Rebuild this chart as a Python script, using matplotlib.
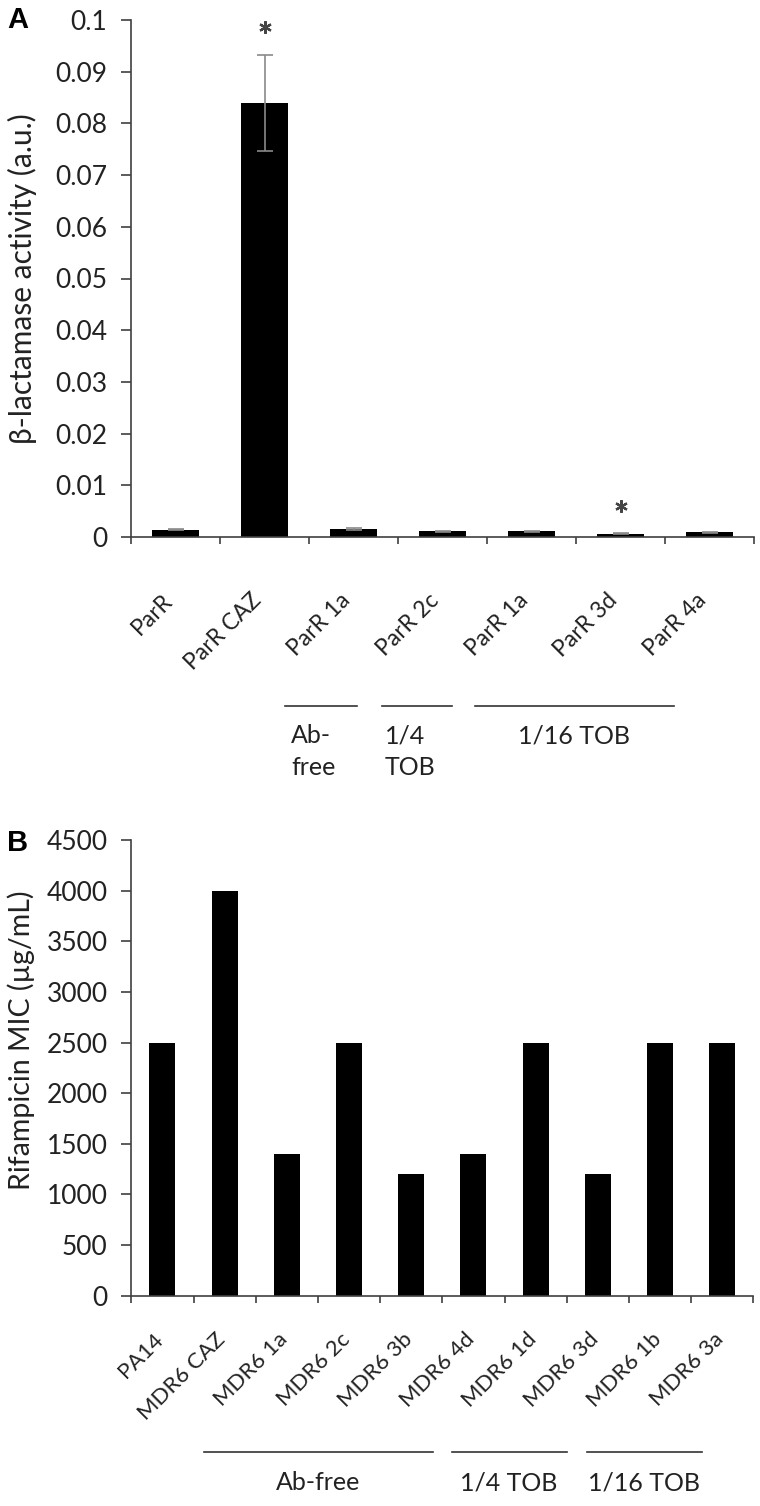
import numpy as np
import matplotlib
matplotlib.use('Agg')
import matplotlib.pyplot as plt
from matplotlib.transforms import ScaledTranslation, blended_transform_factory

# ---------------- data ----------------
a_labels = ['ParR', 'ParR CAZ', 'ParR 1a', 'ParR 2c', 'ParR 1a', 'ParR 3d', 'ParR 4a']
a_values = [0.0014, 0.0840, 0.0016, 0.0011, 0.0011, 0.0006, 0.0009]
a_errors = [0.0001, 0.0093, 0.0002, 0.0001, 0.0001, 0.0001, 0.0001]
a_signif = [False, True, False, False, False, True, False]
a_yticks = [0, 0.01, 0.02, 0.03, 0.04, 0.05, 0.06, 0.07, 0.08, 0.09, 0.1]
a_yticklabels = ['0', '0.01', '0.02', '0.03', '0.04', '0.05', '0.06', '0.07', '0.08', '0.09', '0.1']
a_ylabel = 'β-lactamase activity (a.u.)'
a_groups = ['Ab-\nfree', '1/4\nTOB', '1/16 TOB']
a_group_spans = [(1.23, 2.04), (2.32, 3.11), (3.37, 5.60)]

b_labels = ['PA14', 'MDR6 CAZ', 'MDR6 1a', 'MDR6 2c', 'MDR6 3b', 'MDR6 4d',
            'MDR6 1d', 'MDR6 3d', 'MDR6 1b', 'MDR6 3a']
b_values = [2500, 4000, 1400, 2500, 1200, 1400, 2500, 1200, 2500, 2500]
b_yticks = [0, 500, 1000, 1500, 2000, 2500, 3000, 3500, 4000, 4500]
b_ylabel = 'Rifampicin MIC (µg/mL)'
b_groups = ['Ab-free', '1/4 TOB', '1/16 TOB']
b_group_spans = [(0.67, 4.35), (4.65, 6.50), (6.82, 8.67)]

# ---------------- style ----------------
FAM = ['Lato', 'DejaVu Sans']
plt.rcParams['font.family'] = FAM
AX_COL = '#404040'
TXT_COL = '#222222'

W, H = 760, 1506
fig = plt.figure(figsize=(W / 100, H / 100), dpi=100)


def px_box(left, right, top, bottom):
    return [left / W, 1 - bottom / H, (right - left) / W, (bottom - top) / H]


def style_axes(ax, n, labels, label_pad, label_dx, label_size):
    for s in ('top', 'right'):
        ax.spines[s].set_visible(False)
    for s in ('left', 'bottom'):
        ax.spines[s].set_color(AX_COL)
        ax.spines[s].set_linewidth(1.2)
    ax.set_xlim(-0.5, n - 0.5)
    ax.set_xticks(np.arange(n))
    ax.set_xticklabels(labels, rotation=45, ha='right', va='top',
                       fontsize=label_size, color=TXT_COL)
    ax.set_xticks(np.arange(n + 1) - 0.5, minor=True)
    ax.tick_params(axis='x', which='major', length=0, pad=label_pad)
    ax.tick_params(axis='x', which='minor', length=5, width=1.2,
                   direction='out', color=AX_COL)
    ax.tick_params(axis='y', which='major', length=7, width=1.2,
                   direction='out', color=AX_COL, labelsize=19,
                   labelcolor=TXT_COL, pad=10)
    off = ScaledTranslation(label_dx / 100, 0, fig.dpi_scale_trans)
    for lab in ax.get_xticklabels():
        lab.set_transform(lab.get_transform() + off)


# ---------------- panel A ----------------
axA = fig.add_axes(px_box(131, 754, 20, 537))
xa = np.arange(len(a_values))
axA.bar(xa, a_values, width=0.52, color='black', zorder=2)
axA.errorbar(xa, a_values, yerr=a_errors, fmt='none', ecolor='#8a8a8a',
             elinewidth=1.2, capsize=5.5, capthick=1.2, zorder=3)
sig_x = [x for x, s in zip(xa, a_signif) if s]
sig_y = [v + e + 0.0053 for v, e, s in zip(a_values, a_errors, a_signif) if s]
axA.plot(sig_x, sig_y, linestyle='none', marker=(6, 2, 0), ms=9, mew=1.6,
         color='#444444', zorder=4)
axA.set_ylim(0, 0.1)
axA.set_yticks(a_yticks)
axA.set_yticklabels(a_yticklabels)
style_axes(axA, len(a_values), a_labels, label_pad=38, label_dx=1, label_size=16.5)
axA.set_ylabel(a_ylabel, fontsize=21.5, color=TXT_COL, family=FAM)
axA.yaxis.set_label_coords((37 - 131) / 623, 0.5)

trA = blended_transform_factory(axA.transData, fig.transFigure)
yl = 1 - 706 / H
for (x0, x1), g in zip(a_group_spans, a_groups):
    axA.plot([x0, x1], [yl, yl], color='#333333', lw=1.2, transform=trA,
             clip_on=False)
ytxt = 1 - 724 / H
axA.text(a_group_spans[0][0] + 0.07, ytxt, a_groups[0], transform=trA,
         ha='left', va='top', fontsize=18, color=TXT_COL, linespacing=1.45)
axA.text(a_group_spans[1][0] + 0.03, ytxt, a_groups[1], transform=trA,
         ha='left', va='top', fontsize=18, color=TXT_COL, linespacing=1.45)
axA.text(4.48, ytxt, a_groups[2], transform=trA, ha='center', va='top',
         fontsize=18, color=TXT_COL)

# ---------------- panel B ----------------
axB = fig.add_axes(px_box(131.3, 753.3, 840, 1295.7))
xb = np.arange(len(b_values))
axB.bar(xb, b_values, width=0.42, color='black', zorder=2)
axB.set_ylim(0, 4500)
axB.set_yticks(b_yticks)
axB.set_yticklabels([str(v) for v in b_yticks])
style_axes(axB, len(b_values), b_labels, label_pad=24, label_dx=5, label_size=16)
axB.set_ylabel(b_ylabel, fontsize=20.5, color=TXT_COL, family=FAM)
axB.yaxis.set_label_coords((35 - 131.3) / 622, 0.56)

trB = blended_transform_factory(axB.transData, fig.transFigure)
yl = 1 - 1452 / H
for (x0, x1), g in zip(b_group_spans, b_groups):
    axB.plot([x0, x1], [yl, yl], color='#333333', lw=1.2, transform=trB,
             clip_on=False)
    axB.text((x0 + x1) / 2, 1 - 1483 / H, g, transform=trB, ha='center',
             va='center', fontsize=18, color=TXT_COL)

# ---------------- panel letters ----------------
fig.text(7 / W, 1 - 6 / H, 'A', ha='left', va='top', fontsize=21,
         fontweight='bold', family=['Liberation Sans', 'DejaVu Sans'])
fig.text(7 / W, 1 - 829 / H, 'B', ha='left', va='top', fontsize=21,
         fontweight='bold', family=['Liberation Sans', 'DejaVu Sans'])

fig.savefig('out.png', dpi=100)
